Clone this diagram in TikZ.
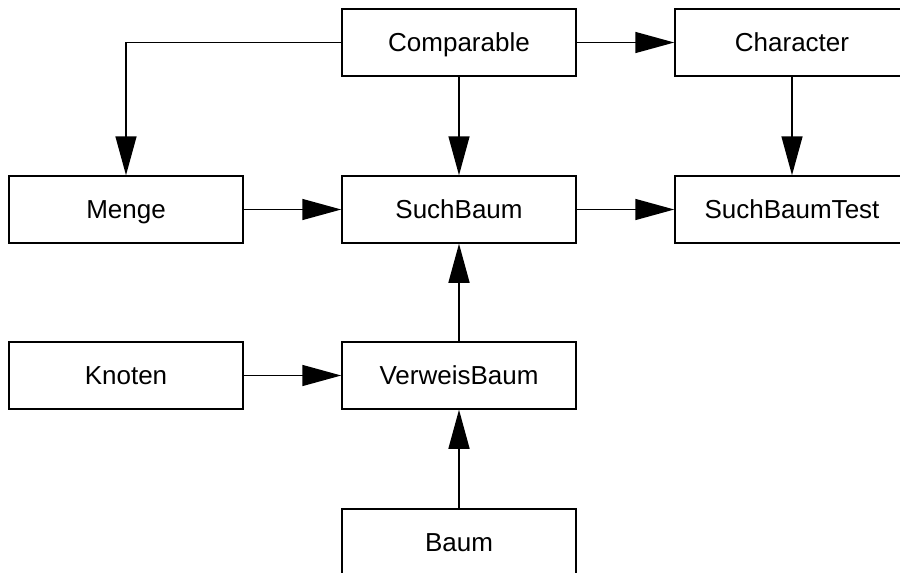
\documentclass[tikz,border=0pt]{standalone}
\usepackage{fontspec}
\setmainfont{Liberation Sans}
\usetikzlibrary{arrows.meta}
\tikzset{>={Triangle[length=39pt,width=21pt]}}
\tikzset{klasse/.style={draw,line width=1.5pt,minimum width=234pt,
    minimum height=67pt,inner sep=0pt,text height=19pt,text depth=2pt,
    font=\fontsize{26}{30}\selectfont}}

\begin{document}
\begin{tikzpicture}[x=1pt,y=-1pt,line width=1.5pt]
      \useasboundingbox (0,0) rectangle (900,573);

      \node [klasse] (comparable) at (459,42.5) {Comparable};
      \node [klasse] (character) at (792,42.5) {Character};

      \node [klasse] (menge) at (126,209.5) {Menge};
      \node [klasse] (suchbaum) at (459,209.5) {SuchBaum};
      \node [klasse] (suchbaumtest) at (792,209.5) {SuchBaumTest};

      \node [klasse] (knoten) at (126,375.5) {Knoten};
      \node [klasse] (verweisbaum) at (459,375.5) {VerweisBaum};

      \node [klasse] (baum) at (459,542.5) {Baum};

      \draw [->] (comparable.west) -| (menge.north);
      \draw [->] (comparable) -- (character);
      \draw [->] (comparable) -- (suchbaum);
      \draw [->] (character) -- (suchbaumtest);

      \draw [->] (menge) -- (suchbaum);
      \draw [->] (suchbaum) -- (suchbaumtest);

      \draw [->] (verweisbaum) -- (suchbaum);
      \draw [->] (knoten) -- (verweisbaum);
      \draw [->] (baum) -- (verweisbaum);
  \end{tikzpicture}
\end{document}
